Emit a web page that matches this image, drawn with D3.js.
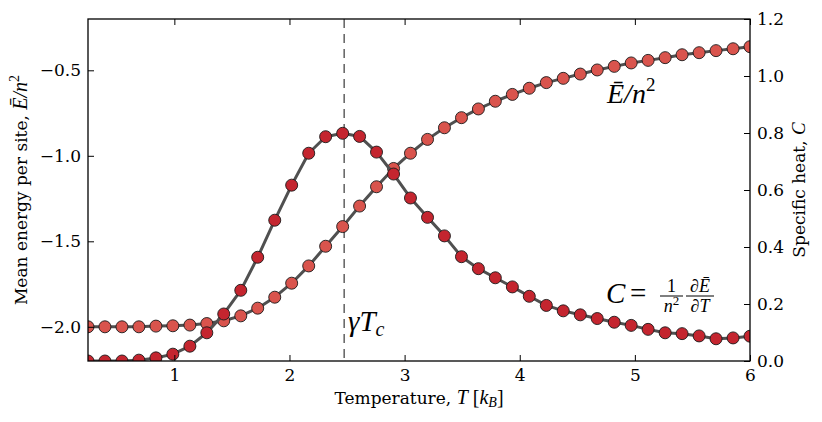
<!DOCTYPE html>
<html><head><meta charset="utf-8">
<script src="https://cdn.jsdelivr.net/npm/d3@7"></script>
<style>
body{margin:0;background:#fff;}
svg{display:block;}
text{font-family:"DejaVu Serif",serif;fill:#000;}
.math{font-family:"Liberation Serif",serif;font-style:italic;}
.rm{font-family:"Liberation Serif",serif;font-style:normal;}
</style></head><body>
<svg id="chart" width="822" height="422"></svg>
<script>
// ---- data ----
const temperature = [0.250,0.397,0.545,0.692,0.840,0.987,1.135,1.282,1.429,1.577,1.724,1.872,2.019,2.167,2.314,2.462,2.609,2.756,2.904,3.051,3.199,3.346,3.494,3.641,3.788,3.936,4.083,4.231,4.378,4.526,4.673,4.821,4.968,5.115,5.263,5.410,5.558,5.705,5.853,6.000];
const energy = [-2.000,-2.000,-2.000,-2.000,-1.996,-1.994,-1.990,-1.981,-1.965,-1.936,-1.891,-1.827,-1.745,-1.644,-1.529,-1.414,-1.294,-1.181,-1.074,-0.985,-0.904,-0.836,-0.777,-0.726,-0.681,-0.641,-0.605,-0.572,-0.547,-0.522,-0.498,-0.477,-0.457,-0.442,-0.426,-0.409,-0.397,-0.385,-0.374,-0.362];
const heat = [0,0,0,0.003,0.011,0.024,0.052,0.099,0.165,0.248,0.364,0.494,0.617,0.729,0.787,0.799,0.788,0.733,0.656,0.572,0.504,0.439,0.366,0.324,0.292,0.260,0.227,0.195,0.176,0.162,0.149,0.136,0.125,0.111,0.099,0.096,0.088,0.078,0.081,0.087];
const xTicks = [1,2,3,4,5,6];
const yLeftTicks = [-2.0,-1.5,-1.0,-0.5];
const yRightTicks = [0.0,0.2,0.4,0.6,0.8,1.0,1.2];
const criticalT = 2.475;

// ---- layout ----
const L = 88, R = 750, T = 19, B = 361;
const svg = d3.select("#chart");
const x = d3.scaleLinear().domain([0.25, 6]).range([L, R]);
const yL = d3.scaleLinear().domain([-2.2, -0.2]).range([B, T]);
const yR = d3.scaleLinear().domain([0, 1.2]).range([B, T]);

svg.append("defs").append("clipPath").attr("id","clip")
  .append("rect").attr("x",L).attr("y",T).attr("width",R-L).attr("height",B-T);

const plot = svg.append("g").attr("clip-path","url(#clip)");

// dashed critical line
plot.append("line")
  .attr("x1", x(criticalT)).attr("x2", x(criticalT))
  .attr("y1", yL(-0.2)).attr("y2", yL(-2.2))
  .attr("stroke","#555").attr("stroke-width",1.4).attr("stroke-dasharray","9,6");

const lineColor = "#505050";
function series(vals, yScale, fill){
  const data = temperature.map((t,i)=>[t, vals[i]]);
  plot.append("path").datum(data)
    .attr("d", d3.line().x(d=>x(d[0])).y(d=>yScale(d[1])))
    .attr("fill","none").attr("stroke",lineColor).attr("stroke-width",3)
    .attr("stroke-linejoin","round");
  plot.append("g").selectAll("circle").data(data).join("circle")
    .attr("cx", d=>x(d[0])).attr("cy", d=>yScale(d[1])).attr("r",6)
    .attr("fill", fill).attr("stroke","#1a1a1a").attr("stroke-width",0.9);
}
series(energy, yL, "#d9544d");
series(heat, yR, "#c4252f");

// ---- axes ----
const fs = "17px";
svg.append("g").attr("transform",`translate(0,${B})`)
  .call(d3.axisBottom(x).tickValues(xTicks).tickFormat(d3.format("d")).tickSize(-6).tickPadding(8));
svg.append("g").attr("transform",`translate(0,${T})`)
  .call(d3.axisTop(x).tickValues(xTicks).tickFormat("").tickSize(-6));
svg.append("g").attr("transform",`translate(${L},0)`)
  .call(d3.axisLeft(yL).tickValues(yLeftTicks).tickFormat(d3.format(".1f")).tickSize(-6).tickPadding(7));
svg.append("g").attr("transform",`translate(${R},0)`)
  .call(d3.axisRight(yR).tickValues(yRightTicks).tickFormat(d3.format(".1f")).tickSize(-6).tickPadding(7));
svg.selectAll(".domain").remove();
svg.selectAll(".tick line").attr("stroke","#000").attr("stroke-width",1);
svg.selectAll(".tick text").attr("font-family","DejaVu Serif").attr("font-size",fs).attr("fill","#000");

svg.append("rect").attr("x",L).attr("y",T).attr("width",R-L).attr("height",B-T)
  .attr("fill","none").attr("stroke","#000").attr("stroke-width",1.3);

// ---- axis labels ----
const xl = svg.append("text").attr("x",(L+R)/2).attr("y",404).attr("text-anchor","middle").attr("font-size","17px");
xl.append("tspan").text("Temperature, ");
xl.append("tspan").attr("class","math").attr("font-size","20px").text("T");
xl.append("tspan").attr("class","rm").attr("font-size","20px").text(" [");
xl.append("tspan").attr("class","math").attr("font-size","20px").text("k");
xl.append("tspan").attr("class","math").attr("font-size","14px").attr("dy",3).text("B");
xl.append("tspan").attr("class","rm").attr("font-size","20px").attr("dy",-3).text("]");

const yl = svg.append("text").attr("transform",`translate(27,${(T+B)/2}) rotate(-90)`)
  .attr("text-anchor","middle").attr("font-size","17px");
yl.append("tspan").text("Mean energy per site, ");
yl.append("tspan").attr("class","math").attr("font-size","20px").text("Ē/n");
yl.append("tspan").attr("class","rm").attr("font-size","14px").attr("dy",-8).text("2");

const yr = svg.append("text").attr("transform",`translate(805,${(T+B)/2}) rotate(-90)`)
  .attr("text-anchor","middle").attr("font-size","17px");
yr.append("tspan").text("Specific heat, ");
yr.append("tspan").attr("class","math").attr("font-size","19px").text("C");

// ---- annotations ----
const a1 = svg.append("text").attr("x",607).attr("y",103).attr("font-size","28px");
a1.append("tspan").attr("class","math").text("Ē/n");
a1.append("tspan").attr("class","rm").attr("font-size","19px").attr("dy",-12).text("2");

const a2 = svg.append("text").attr("x",348).attr("y",331).attr("font-size","29px");
a2.append("tspan").attr("class","math").text("γT");
a2.append("tspan").attr("class","math").attr("font-size","20px").attr("dy",5).text("c");

const cg = svg.append("g");
cg.append("text").attr("class","math").attr("x",606).attr("y",303).attr("font-size","29px").text("C");
cg.append("text").attr("class","rm").attr("x",630).attr("y",303).attr("font-size","29px").text("=");
cg.append("line").attr("x1",660).attr("x2",683).attr("y1",296).attr("y2",296).attr("stroke","#000").attr("stroke-width",1);
cg.append("text").attr("class","rm").attr("x",671.5).attr("y",292).attr("text-anchor","middle").attr("font-size","18px").text("1");
const nn = cg.append("text").attr("x",671.5).attr("y",312).attr("text-anchor","middle").attr("font-size","18px");
nn.append("tspan").attr("class","math").text("n");
nn.append("tspan").attr("class","rm").attr("font-size","13px").attr("dy",-7).text("2");
cg.append("line").attr("x1",686).attr("x2",714).attr("y1",296).attr("y2",296).attr("stroke","#000").attr("stroke-width",1);
cg.append("text").attr("class","math").attr("x",700).attr("y",292).attr("text-anchor","middle").attr("font-size","18px").text("∂Ē");
cg.append("text").attr("class","math").attr("x",700).attr("y",312).attr("text-anchor","middle").attr("font-size","18px").text("∂T");
</script>
</body></html>
